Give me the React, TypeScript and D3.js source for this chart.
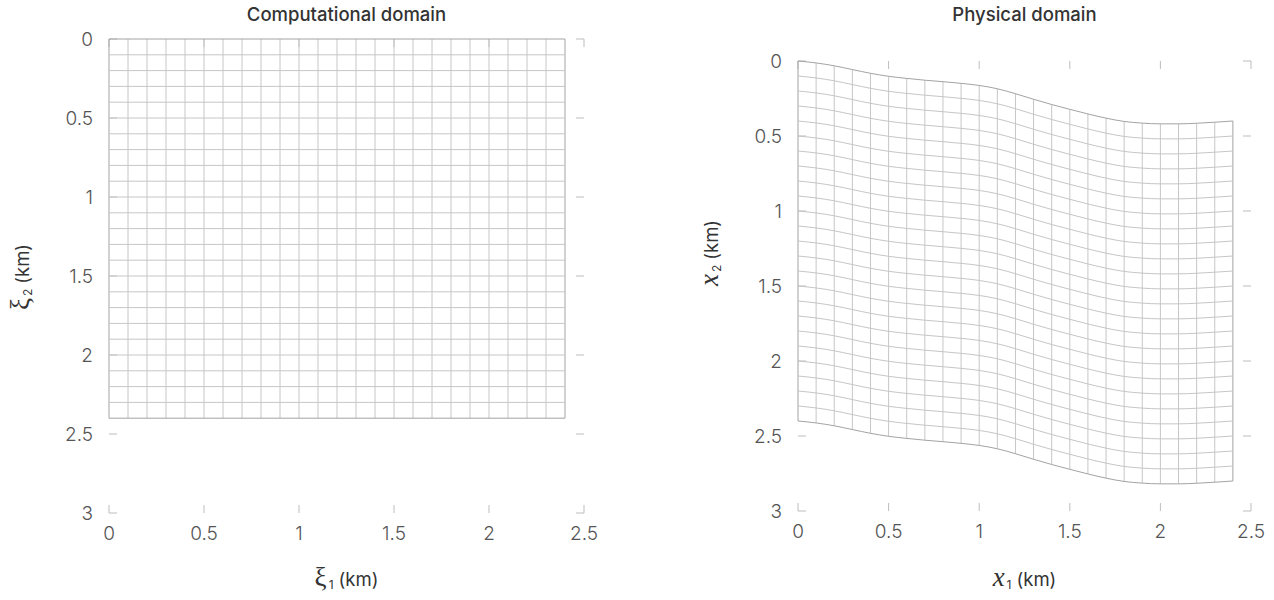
import React from "react";
import * as d3 from "d3";

// Grid node coordinates (km) along both computational axes
const gridNodes = [
  0, 0.1, 0.2, 0.3, 0.4, 0.5, 0.6, 0.7, 0.8, 0.9, 1.0, 1.1, 1.2,
  1.3, 1.4, 1.5, 1.6, 1.7, 1.8, 1.9, 2.0, 2.1, 2.2, 2.3, 2.4,
];

// Vertical shift of the physical grid (km) at each ξ1 node
const surfaceShift = [
  0, 0.013, 0.032, 0.057, 0.082, 0.102, 0.116, 0.128, 0.138, 0.149, 0.163,
  0.185, 0.218, 0.255, 0.29, 0.322, 0.353, 0.381, 0.403, 0.414, 0.419, 0.419,
  0.415, 0.408, 0.4,
];

const xTicks = [0, 0.5, 1, 1.5, 2, 2.5];
const yTicks = [0, 0.5, 1, 1.5, 2, 2.5, 3];
const xTickLabels = ["0", "0.5", "1", "1.5", "2", "2.5"];
const yTickLabels = ["0", "0.5", "1", "1.5", "2", "2.5", "3"];

const W = 1274;
const H = 600;
const TICK = 8;
const tickFont = "Inter, 'Open Sans', sans-serif";

type PanelProps = {
  left: number;
  right: number;
  top: number;
  bottom: number;
  title: string;
  sym: string;
  symItalic: boolean;
  yLabelY: number;
  physical: boolean;
};

function Panel(p: PanelProps) {
  const x = d3.scaleLinear().domain([0, 2.5]).range([p.left, p.right]);
  const y = d3.scaleLinear().domain([0, 3]).range([p.top, p.bottom]);
  const last = gridNodes.length - 1;
  const shift = (i: number) => (p.physical ? surfaceShift[i] : 0);

  const rowLine = d3
    .line<number>()
    .x((_, i) => x(gridNodes[i]))
    .y((v) => y(v))
    .curve(d3.curveMonotoneX);

  const rows = gridNodes.map((z2, j) => ({
    d: rowLine(gridNodes.map((_, i) => z2 + shift(i))) as string,
    edge: j === 0 || j === last,
  }));
  const cols = gridNodes.map((z1, i) => ({
    x: x(z1),
    y0: y(shift(i)),
    y1: y(gridNodes[last] + shift(i)),
    edge: i === 0 || i === last,
  }));

  const cx = (p.left + p.right) / 2;
  const tickStroke = "#bdbdbd";
  const symFont = "'Liberation Serif', 'DejaVu Serif', serif";

  const axisTitle = (sub: string) => (
    <>
      <tspan
        fontFamily={symFont}
        fontStyle={p.symItalic ? "italic" : "normal"}
        fontSize={27}
      >
        {p.sym}
      </tspan>
      <tspan fontSize={12} dy={3} dx={2}>
        {sub}
      </tspan>
      <tspan dy={-3} dx={5}>
        (km)
      </tspan>
    </>
  );

  return (
    <g>
      <text
        x={cx}
        y={21}
        textAnchor="middle"
        fontFamily={tickFont}
        fontSize={18.5}
        fontWeight={500}
        fill="#333"
      >
        {p.title}
      </text>

      {/* mirrored inner ticks on all four sides */}
      <g stroke={tickStroke} strokeWidth={1}>
        {xTicks.map((t) => (
          <g key={"xt" + t}>
            <line x1={x(t)} x2={x(t)} y1={p.bottom} y2={p.bottom - TICK} />
            <line x1={x(t)} x2={x(t)} y1={p.top} y2={p.top + TICK} />
          </g>
        ))}
        {yTicks.map((t) => (
          <g key={"yt" + t}>
            <line x1={p.left} x2={p.left + TICK} y1={y(t)} y2={y(t)} />
            <line x1={p.right} x2={p.right - TICK} y1={y(t)} y2={y(t)} />
          </g>
        ))}
      </g>

      <g fill="none">
        {cols.map((c, i) => (
          <line
            key={"c" + i}
            x1={c.x}
            x2={c.x}
            y1={c.y0}
            y2={c.y1}
            stroke={c.edge ? "#a3a3a3" : "#c6c6c6"}
            strokeWidth={1}
          />
        ))}
        {rows.map((r, j) => (
          <path
            key={"r" + j}
            d={r.d}
            stroke={r.edge ? "#a3a3a3" : "#c6c6c6"}
            strokeWidth={1}
          />
        ))}
      </g>

      <g fontFamily={tickFont} fontWeight={300} fontSize={19} fill="#555">
        {xTicks.map((t, i) => (
          <text key={"xl" + t} x={x(t)} y={p.bottom + 27} textAnchor="middle">
            {xTickLabels[i]}
          </text>
        ))}
        {yTicks.map((t, i) => (
          <text
            key={"yl" + t}
            x={p.left - 16}
            y={y(t)}
            dy="0.36em"
            textAnchor="end"
          >
            {yTickLabels[i]}
          </text>
        ))}
      </g>

      {/* axis titles */}
      <text
        x={cx}
        y={586}
        textAnchor="middle"
        fontFamily={tickFont}
        fontSize={18.5}
        fill="#333"
      >
        {axisTitle("1")}
      </text>
      <text
        transform={`translate(${p.left - 80},${p.yLabelY}) rotate(-90)`}
        textAnchor="middle"
        fontFamily={tickFont}
        fontSize={18.5}
        fill="#333"
      >
        {axisTitle("2")}
      </text>
    </g>
  );
}

export default function App() {
  return (
    <svg width={W} height={H} style={{ display: "block", position: "absolute", left: 0, top: 0 }}>
      <rect width={W} height={H} fill="#fff" />
      <Panel
        left={109}
        right={584}
        top={39}
        bottom={513}
        title="Computational domain"
        sym="ξ"
        symItalic={false}
        yLabelY={277}
        physical={false}
      />
      <Panel
        left={798}
        right={1251}
        top={61}
        bottom={511}
        title="Physical domain"
        sym="x"
        symItalic={true}
        yLabelY={253}
        physical={true}
      />
    </svg>
  );
}
